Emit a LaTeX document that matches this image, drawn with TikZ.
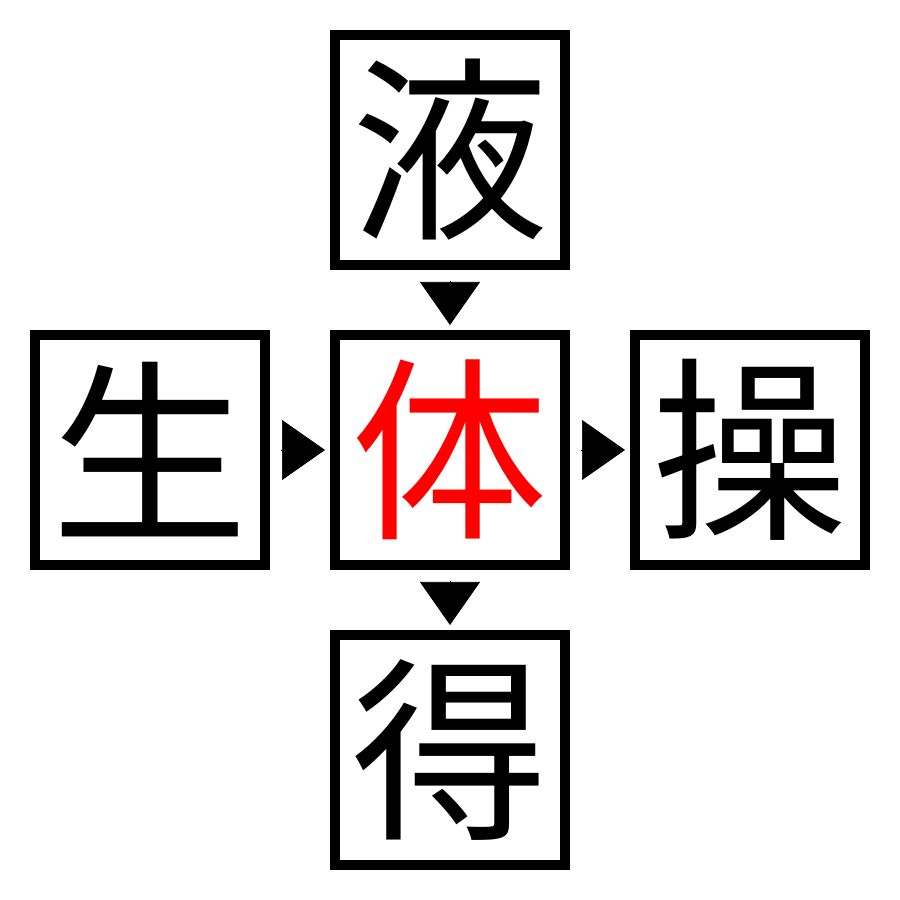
\documentclass[tikz,border=0pt]{standalone}
\usepackage{fontspec}
\newfontfamily\cjk{Noto Sans CJK JP}
\usetikzlibrary{arrows.meta}
\begin{document}
\begin{tikzpicture}[box/.style={draw,line width=1mm,minimum size=2.3cm,inner sep=0pt,font=\cjk\fontsize{56}{56}\selectfont},
    link/.style={line width=0.2pt,-{Triangle[width=6mm,length=4.3mm]},shorten <=1.1mm,shorten >=0.5mm}]
    \useasboundingbox (0,0) rectangle (9,9);
    \node[box] at (4.5,7.5) (ye) {液};
    \node[box] at (1.5,4.5) (sheng) {生};
    \node[box,text=red] at (4.5,4.5) (ti) {体};
    \node[box] at (7.5,4.5) (cao) {操};
    \node[box] at (4.5,1.5) (de) {得};

    \draw[link] (ye) -- (ti);
    \draw[link] (sheng) -- (ti);
    \draw[link] (ti) -- (cao);
    \draw[link] (ti) -- (de);
\end{tikzpicture}
\end{document}
